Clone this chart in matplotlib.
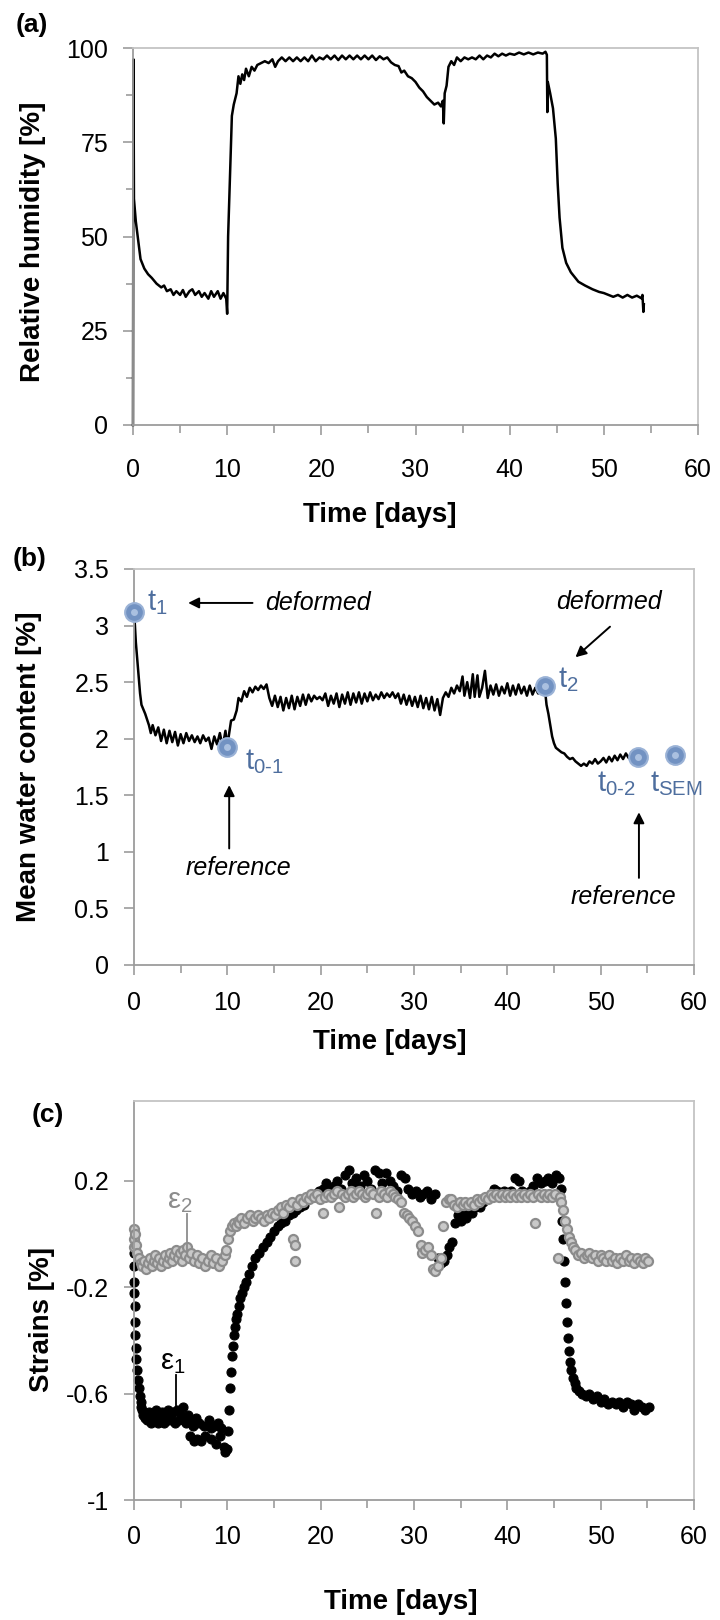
import matplotlib
matplotlib.use("Agg")
import matplotlib.pyplot as plt
from matplotlib.ticker import MultipleLocator, FormatStrFormatter

plt.rcParams['font.family'] = ['Liberation Sans', 'DejaVu Sans']
plt.rcParams['mathtext.fontset'] = 'custom'
plt.rcParams['mathtext.rm'] = 'Liberation Sans'
plt.rcParams['mathtext.it'] = 'Liberation Sans:italic'
plt.rcParams['mathtext.default'] = 'regular'
plt.rcParams['axes.unicode_minus'] = False

# (a) relative humidity
rh_t = [0.0, 0.05, 0.1, 0.2, 0.3, 0.5, 0.8, 1.2, 1.6, 2.0, 2.5, 3.0, 3.3, 3.6, 4.0, 4.3,
        4.6, 5.0, 5.3, 5.6, 6.0, 6.3, 6.6, 7.0, 7.3, 7.6, 8.0, 8.3, 8.6, 9.0, 9.3, 9.6,
        9.9, 10.0, 10.1, 10.25, 10.5, 10.7, 11.0, 11.2, 11.4, 11.6, 11.8, 12.0, 12.3,
        12.6, 12.9, 13.2, 13.6, 14.0, 14.4, 14.8, 15.1, 15.4, 15.8, 16.2, 16.6, 17.0,
        17.4, 17.8, 18.2, 18.6, 19.0, 19.4, 19.8, 20.2, 20.6, 21.0, 21.4, 21.8, 22.2,
        22.6, 23.0, 23.4, 23.8, 24.2, 24.6, 25.0, 25.4, 25.8, 26.2, 26.6, 27.0, 27.4,
        27.8, 28.2, 28.5, 28.8, 29.2, 29.6, 30.0, 30.4, 30.8, 31.2, 31.6, 32.0, 32.4,
        32.7, 32.9, 33.0, 33.1, 33.3, 33.5, 33.8, 34.1, 34.4, 34.8, 35.2, 35.6, 36.0,
        36.4, 36.8, 37.2, 37.6, 38.0, 38.4, 38.8, 39.2, 39.6, 40.0, 40.5, 41.0, 41.5,
        42.0, 42.5, 43.0, 43.5, 43.8, 43.95, 44.0, 44.05, 44.3, 44.6, 44.9, 45.1, 45.3,
        45.6, 46.0, 46.5, 47.3, 48.0, 48.8, 49.5, 50.0, 50.5, 51.0, 51.5, 52.0, 52.5,
        53.0, 53.5, 54.0, 54.1, 54.2, 54.25]
rh_v = [0, 97, 60, 57, 54, 50, 44, 41.5, 40, 39, 37.5, 36.5, 37, 35.5, 36, 34.5,
        35.5, 34.5, 35.8, 34, 35.5, 36, 34.5, 35.5, 34, 35, 33.5, 35.5, 34, 35.5, 33.5, 35,
        33.5, 29.5, 50, 62, 82, 85, 88, 92.5, 90.5, 93, 91.5, 94.5, 92.5,
        95, 94, 95.5, 96, 96.5, 96, 97, 95, 96.5, 97.5, 96.5, 97.5, 96.5,
        97.5, 96.5, 97.5, 96.5, 98, 96.5, 97.5, 97, 98, 97, 98, 96.8, 98,
        97, 98, 97, 98, 97, 98, 97, 98, 96.8, 97.8, 97, 97.5, 96.2,
        95.5, 95.2, 93.5, 94, 92.5, 92, 91, 89.5, 88.5, 87, 86, 85, 85.5,
        84.5, 86, 80, 88, 90, 95, 96.5, 95.5, 97.5, 96.5, 97.5, 97, 97.5,
        97, 98, 97, 98, 97.5, 98.5, 97.8, 98.5, 98, 98.5, 98.2, 98.8, 98.3,
        98.8, 98.3, 98.8, 98.5, 99, 98.2, 83, 91, 88, 84, 76, 64, 55,
        47, 43, 40.5, 38, 37, 36, 35.3, 35, 34.5, 34, 34.5, 33.8, 34.5,
        33.8, 34.3, 33.6, 34.5, 30, 32]

# (b) mean water content
wc_t = [0.0, 0.1, 0.2, 0.35, 0.5, 0.65, 0.8, 1.0, 1.2, 1.4, 1.6, 1.8, 2.0, 2.3, 2.6, 2.9,
        3.2, 3.5, 3.8, 4.1, 4.4, 4.7, 5.0, 5.3, 5.6, 5.9, 6.2, 6.5, 6.8, 7.1, 7.4, 7.7,
        8.0, 8.3, 8.6, 8.9, 9.2, 9.5, 9.8, 10.0, 10.2, 10.4, 10.7, 11.0, 11.2, 11.5,
        11.8, 12.1, 12.4, 12.7, 13.0, 13.3, 13.6, 13.9, 14.2, 14.5, 14.8, 15.1, 15.4,
        15.7, 16.0, 16.3, 16.6, 16.9, 17.2, 17.5, 17.8, 18.1, 18.4, 18.7, 19.0, 19.3,
        19.6, 19.9, 20.2, 20.5, 20.8, 21.1, 21.4, 21.7, 22.0, 22.3, 22.6, 22.9, 23.2,
        23.5, 23.8, 24.1, 24.4, 24.7, 25.0, 25.3, 25.6, 25.9, 26.2, 26.5, 26.8, 27.1,
        27.4, 27.7, 28.0, 28.3, 28.6, 28.9, 29.2, 29.5, 29.8, 30.1, 30.4, 30.7, 31.0,
        31.3, 31.6, 31.9, 32.2, 32.5, 32.8, 33.1, 33.4, 33.7, 34.0, 34.3, 34.6, 34.9,
        35.2, 35.4, 35.7, 36.0, 36.3, 36.5, 36.8, 37.0, 37.3, 37.6, 37.9, 38.2, 38.5,
        38.8, 39.1, 39.4, 39.7, 40.0, 40.3, 40.6, 40.9, 41.2, 41.5, 41.8, 42.1, 42.4,
        42.7, 43.0, 43.3, 43.6, 44.0, 44.2, 44.4, 44.6, 44.8, 45.0, 45.2, 45.5, 45.8,
        46.1, 46.4, 46.7, 47.0, 47.3, 47.6, 47.9, 48.2, 48.5, 48.8, 49.1, 49.4, 49.7,
        50.0, 50.3, 50.6, 50.9, 51.2, 51.5, 51.8, 52.1, 52.4, 52.7, 53.0, 53.3, 53.6,
        54.0]
wc_v = [3.12, 3.0, 2.85, 2.7, 2.55, 2.4, 2.3, 2.26, 2.22, 2.17, 2.12, 2.05, 2.12, 2.03, 2.1, 1.98,
        2.08, 1.96, 2.07, 1.97, 2.06, 1.94, 2.04, 1.96, 2.05, 1.98, 2.03, 1.97, 2.02, 1.96, 2.03, 1.98,
        2.01, 1.91, 2.02, 1.95, 2.05, 1.93, 2.07, 1.93, 2.05, 2.16, 2.17, 2.25, 2.36, 2.33,
        2.42, 2.37, 2.45, 2.41, 2.46, 2.43, 2.47, 2.44, 2.48, 2.36, 2.29, 2.38, 2.28,
        2.37, 2.25, 2.36, 2.27, 2.38, 2.26, 2.37, 2.29, 2.39, 2.3, 2.39, 2.33, 2.38,
        2.35, 2.37, 2.34, 2.4, 2.29, 2.38, 2.31, 2.4, 2.28, 2.39, 2.31, 2.41, 2.3,
        2.4, 2.32, 2.41, 2.31, 2.4, 2.33, 2.41, 2.34, 2.39, 2.35, 2.41, 2.36, 2.4,
        2.37, 2.41, 2.36, 2.4, 2.31, 2.39, 2.3, 2.38, 2.29, 2.37, 2.28, 2.38, 2.27,
        2.36, 2.26, 2.37, 2.25, 2.35, 2.21, 2.36, 2.41, 2.37, 2.45, 2.4, 2.47, 2.42,
        2.55, 2.38, 2.5, 2.36, 2.57, 2.37, 2.56, 2.37, 2.45, 2.6, 2.36, 2.47, 2.39,
        2.48, 2.38, 2.46, 2.4, 2.49, 2.38, 2.47, 2.39, 2.48, 2.4, 2.46, 2.38, 2.47,
        2.39, 2.45, 2.4, 2.44, 2.46, 2.3, 2.22, 2.12, 2.02, 1.96, 1.92, 1.9, 1.88,
        1.87, 1.84, 1.82, 1.83, 1.8, 1.78, 1.76, 1.78, 1.76, 1.8, 1.78, 1.82, 1.78,
        1.8, 1.83, 1.79, 1.84, 1.8, 1.85, 1.81, 1.86, 1.82, 1.87, 1.83, 1.88, 1.84,
        1.84]

# sampling times marked on (b)
mark_t = [0, 10, 44, 54, 58]
mark_w = [3.12, 1.93, 2.47, 1.84, 1.86]
mark_lbl = ['t$_1$', 't$_{0\u20101}$', 't$_2$', 't$_{0\u20102}$', 't$_{SEM}$']
mark_lbl_pos = [(1.4, 3.2), (11.9, 1.80), (45.4, 2.52), (49.6, 1.60), (55.3, 1.60)]

# (c) strains
e1_t = [0.0, 0.0, 0.05, 0.05, 0.1, 0.1, 0.15, 0.2, 0.25, 0.3, 0.4, 0.5, 0.6, 0.7, 0.8, 0.9,
        1.0, 1.2, 1.4, 1.6, 1.8, 2.0, 2.2, 2.4, 2.6, 2.8, 3.0, 3.2, 3.4, 3.6, 3.8, 4.0,
        4.2, 4.4, 4.6, 4.8, 5.0, 5.2, 5.4, 5.6, 5.8, 6.0, 6.3, 6.6, 6.0, 6.4, 6.8, 7.2,
        7.6, 7.0, 7.5, 8.0, 8.3, 8.6, 9.0, 9.3, 8.2, 8.8, 9.2, 9.6, 9.8, 10.0, 10.1,
        10.2, 10.3, 10.4, 10.5, 10.6, 10.7, 10.8, 10.9, 11.0, 11.2, 11.4, 11.6, 11.8,
        12.0, 12.3, 12.6, 13.0, 13.4, 13.8, 14.2, 14.6, 15.0, 15.4, 15.8, 16.2, 16.6,
        17.0, 17.4, 17.8, 18.2, 18.6, 19.0, 19.4, 19.8, 20.2, 20.6, 21.0, 21.4, 21.8,
        22.2, 22.6, 23.0, 23.4, 23.8, 24.2, 24.6, 25.0, 25.4, 25.8, 26.2, 26.6, 27.0,
        27.4, 27.8, 28.2, 28.6, 29.0, 29.4, 29.8, 30.2, 30.6, 31.0, 31.4, 31.8, 32.2,
        32.6, 32.9, 33.2, 33.5, 33.8, 34.1, 34.4, 34.7, 35.0, 35.3, 35.6, 35.9, 36.2,
        36.5, 36.8, 37.1, 37.4, 37.7, 38.0, 38.3, 38.6, 38.9, 39.2, 39.6, 40.0, 40.4,
        40.8, 41.2, 41.6, 42.0, 42.4, 42.8, 43.2, 43.6, 44.0, 44.4, 44.8, 45.2, 45.5,
        45.7, 45.8, 45.9, 46.0, 46.1, 46.2, 46.3, 46.4, 46.5, 46.6, 46.7, 46.8, 47.0,
        47.2, 47.4, 47.7, 48.0, 48.4, 48.8, 49.2, 49.6, 50.0, 50.4, 50.8, 51.2, 51.6,
        52.0, 52.4, 52.8, 53.2, 53.6, 54.0, 54.4, 54.8, 55.2]
e1_v = [-0.07, -0.12, -0.18, -0.22, -0.27, -0.33, -0.38, -0.43, -0.47, -0.51, -0.55, -0.58, -0.61, -0.63, -0.65, -0.66,
        -0.68, -0.69, -0.70, -0.67, -0.71, -0.68, -0.70, -0.66, -0.71, -0.69, -0.67, -0.71, -0.68, -0.66, -0.70, -0.69,
        -0.67, -0.71, -0.66, -0.70, -0.68, -0.65, -0.69, -0.71, -0.68, -0.70, -0.72, -0.69, -0.76, -0.78, -0.77, -0.78,
        -0.76, -0.71, -0.72, -0.70, -0.73, -0.72, -0.71, -0.73, -0.77, -0.79, -0.76, -0.80, -0.82, -0.81, -0.74,
        -0.66, -0.58, -0.52, -0.46, -0.42, -0.38, -0.35, -0.32, -0.30, -0.27, -0.24, -0.22, -0.20,
        -0.18, -0.15, -0.12, -0.09, -0.07, -0.05, -0.03, -0.01, 0.01, 0.03, 0.04, 0.05, 0.07,
        0.08, 0.09, 0.10, 0.11, 0.13, 0.14, 0.15, 0.16, 0.17, 0.19, 0.16, 0.18, 0.20,
        0.17, 0.22, 0.24, 0.19, 0.21, 0.18, 0.22, 0.20, 0.17, 0.24, 0.23, 0.19, 0.23,
        0.20, 0.18, 0.16, 0.22, 0.21, 0.17, 0.15, 0.16, 0.14, 0.15, 0.16, 0.13, 0.15,
        -0.09, -0.11, -0.10, -0.08, -0.05, -0.03, 0.04, 0.07, 0.05, 0.07, 0.06, 0.08, 0.08,
        0.10, 0.11, 0.10, 0.12, 0.13, 0.14, 0.15, 0.17, 0.16, 0.15, 0.16, 0.15, 0.16,
        0.21, 0.20, 0.16, 0.15, 0.16, 0.18, 0.21, 0.19, 0.20, 0.21, 0.19, 0.22, 0.21,
        0.17, 0.12, 0.05, -0.02, -0.10, -0.18, -0.26, -0.33, -0.39, -0.44, -0.48, -0.51, -0.54,
        -0.56, -0.58, -0.59, -0.60, -0.61, -0.60, -0.62, -0.61, -0.63, -0.62, -0.64, -0.63, -0.64,
        -0.63, -0.65, -0.63, -0.64, -0.66, -0.64, -0.65, -0.66, -0.65]

e2_t = [0.0, 0.0, 0.05, 0.1, 0.2, 0.3, 0.5, 0.7, 0.9, 1.1, 1.3, 1.5, 1.7, 1.9, 2.1, 2.3,
        2.5, 2.7, 2.9, 3.1, 3.3, 3.5, 3.7, 3.9, 4.1, 4.3, 4.5, 4.7, 4.9, 5.1, 5.3, 5.5,
        5.7, 5.9, 6.1, 6.4, 6.7, 7.0, 7.3, 7.6, 7.9, 8.2, 8.5, 8.8, 9.1, 9.4, 9.7, 9.9,
        10.1, 10.3, 10.5, 10.7, 10.9, 11.1, 11.3, 11.5, 11.8, 12.1, 12.4, 12.7, 13.0,
        13.3, 13.6, 13.9, 14.2, 14.5, 14.8, 15.1, 15.4, 15.7, 16.0, 16.3, 16.6, 16.9,
        17.0, 17.2, 17.3, 17.5, 17.8, 18.1, 18.4, 18.7, 19.0, 19.3, 19.6, 19.9, 20.2,
        20.5, 20.8, 21.1, 21.4, 21.7, 22.0, 22.3, 22.6, 22.9, 23.2, 23.5, 23.8, 24.1,
        24.4, 24.7, 25.0, 25.3, 25.6, 25.9, 26.2, 26.5, 26.8, 27.1, 27.4, 27.7, 28.0,
        28.3, 28.6, 28.9, 29.2, 29.5, 29.8, 30.1, 30.4, 30.7, 30.9, 31.2, 31.5, 31.8,
        32.0, 32.3, 32.6, 32.9, 33.1, 33.4, 33.7, 34.0, 34.3, 34.6, 34.9, 35.2, 35.5,
        35.8, 36.1, 36.4, 36.7, 37.0, 37.3, 37.6, 37.9, 38.2, 38.5, 38.8, 39.1, 39.4,
        39.7, 40.0, 40.3, 40.6, 40.9, 41.2, 41.5, 41.8, 42.1, 42.4, 42.7, 43.0, 43.3,
        43.6, 43.9, 44.2, 44.5, 44.8, 45.1, 45.4, 45.6, 45.8, 46.0, 46.2, 46.4, 46.6,
        46.8, 47.0, 47.3, 47.6, 47.9, 48.2, 48.5, 48.8, 49.1, 49.4, 49.7, 50.0, 50.3,
        50.6, 50.9, 51.2, 51.5, 51.8, 52.1, 52.4, 52.7, 53.0, 53.3, 53.6, 53.9, 54.2,
        54.5, 54.8, 55.1]
e2_v = [0.02, -0.02, -0.05, 0.0, -0.04, -0.07, -0.09, -0.11, -0.12, -0.10, -0.13, -0.11, -0.09, -0.12, -0.10, -0.08,
        -0.11, -0.09, -0.12, -0.10, -0.08, -0.11, -0.09, -0.07, -0.10, -0.08, -0.06, -0.09, -0.07, -0.10, -0.06, -0.08,
        -0.05, -0.09, -0.07, -0.10, -0.08, -0.11, -0.09, -0.12, -0.10, -0.08, -0.11, -0.09, -0.12, -0.10, -0.08, -0.06,
        -0.02, 0.01, 0.03, 0.04, 0.03, 0.05, 0.04, 0.06, 0.04, 0.06, 0.07, 0.05, 0.06,
        0.07, 0.06, 0.05, 0.07, 0.06, 0.08, 0.07, 0.09, 0.10, 0.08, 0.11, 0.10, 0.12,
        -0.02, -0.04, -0.10, 0.11, 0.13, 0.12, 0.14, 0.13, 0.15, 0.14, 0.15, 0.13, 0.08,
        0.14, 0.15, 0.14, 0.15, 0.16, 0.10, 0.15, 0.14, 0.15, 0.16, 0.14, 0.15, 0.16,
        0.15, 0.14, 0.15, 0.16, 0.15, 0.08, 0.14, 0.16, 0.15, 0.14, 0.16, 0.15, 0.14,
        0.13, 0.12, 0.08, 0.07, 0.06, 0.05, 0.03, 0.01, -0.04, -0.07, -0.06, -0.05, -0.08,
        -0.13, -0.14, -0.12, -0.09, 0.03, 0.12, 0.13, 0.13, 0.11, 0.10, 0.12, 0.11, 0.12,
        0.11, 0.12, 0.11, 0.13, 0.12, 0.13, 0.14, 0.13, 0.15, 0.14, 0.15, 0.14, 0.15,
        0.14, 0.15, 0.14, 0.15, 0.14, 0.15, 0.14, 0.15, 0.14, 0.15, 0.14, 0.04, 0.15,
        0.14, 0.15, 0.14, 0.15, 0.14, 0.15, -0.09, 0.14, 0.12, 0.09, 0.05, 0.02, -0.01,
        -0.03, -0.05, -0.06, -0.08, -0.07, -0.09, -0.08, -0.07, -0.09, -0.08, -0.10, -0.08, -0.09,
        -0.10, -0.08, -0.10, -0.09, -0.11, -0.09, -0.10, -0.08, -0.10, -0.09, -0.11, -0.09, -0.10,
        -0.11, -0.09, -0.10]

W, H = 720, 1620
fig = plt.figure(figsize=(W / 100, H / 100), dpi=100)


def box(x0, y0, x1, y1):
    # pixel box (left, top, right, bottom) -> figure fraction rect
    return [x0 / W, 1 - y1 / H, (x1 - x0) / W, (y1 - y0) / H]


def fpos(x, y):
    return x / W, 1 - y / H


def style(ax, xpad):
    for s in ['left', 'bottom']:
        ax.spines[s].set_color('#9c9c9c')
        ax.spines[s].set_linewidth(1.3)
    for s in ['top', 'right']:
        ax.spines[s].set_color('#c4c4c4')
        ax.spines[s].set_linewidth(1.3)
    ax.set_xlim(0, 60)
    ax.xaxis.set_major_locator(MultipleLocator(10))
    ax.xaxis.set_minor_locator(MultipleLocator(5))
    ax.tick_params(which='both', direction='out', color='#9c9c9c', width=1.2,
                   labelsize=18, top=False, right=False)
    ax.tick_params(which='major', length=7)
    ax.tick_params(which='minor', length=6)
    ax.tick_params(axis='x', pad=xpad)
    ax.tick_params(axis='y', pad=11)


lab = dict(fontsize=20, fontweight='bold', ha='center', va='center')

# ---- (a)
ax1 = fig.add_axes(box(133, 48, 698, 425))
ax1.plot(rh_t, rh_v, color='black', lw=1.8, clip_on=False)
ax1.set_ylim(0, 100)
ax1.yaxis.set_major_locator(MultipleLocator(25))
ax1.yaxis.set_minor_locator(MultipleLocator(12.5))
style(ax1, 17)
ax1.tick_params(axis='y', which='minor', length=5)
fig.text(*fpos(33, 242), 'Relative humidity [%]', rotation=90, **lab)
fig.text(*fpos(380, 515), 'Time [days]', **lab)
fig.text(*fpos(32, 25), '(a)', fontsize=19, fontweight='bold', ha='center', va='center')

# ---- (b)
ax2 = fig.add_axes(box(134, 569, 694, 965))
ax2.plot(wc_t, wc_v, color='black', lw=1.8)
ax2.plot(mark_t, mark_w, 'o', ms=13.5, mfc='#7292c2', mec='#9ab2d6', mew=1.5,
         clip_on=False, zorder=5)
ax2.plot(mark_t, mark_w, 'o', ms=5, mfc='#aac0e0', mec='none', clip_on=False, zorder=6)
for lbl, (lx, ly) in zip(mark_lbl, mark_lbl_pos):
    ax2.text(lx, ly, lbl, fontsize=21, color='#4e6e9e', ha='left', va='center', clip_on=False)
ax2.set_ylim(0, 3.5)
ax2.yaxis.set_major_locator(MultipleLocator(0.5))
ax2.yaxis.set_major_formatter(FormatStrFormatter('%g'))
style(ax2, 12)

arr = dict(arrowstyle='-|>', color='black', lw=1.4, mutation_scale=16, shrinkA=0, shrinkB=0)
ax2.annotate('', xy=(5.8, 3.2), xytext=(12.7, 3.2), arrowprops=arr)
ax2.text(14.1, 3.2, 'deformed', style='italic', fontsize=18, ha='left', va='center')
ax2.annotate('', xy=(47.3, 2.72), xytext=(51.0, 2.99), arrowprops=arr)
ax2.text(50.9, 3.21, 'deformed', style='italic', fontsize=18, ha='center', va='center')
ax2.annotate('', xy=(10.2, 1.59), xytext=(10.2, 1.03), arrowprops=arr)
ax2.text(11.2, 0.86, 'reference', style='italic', fontsize=18, ha='center', va='center')
ax2.annotate('', xy=(54.1, 1.35), xytext=(54.1, 0.77), arrowprops=arr)
ax2.text(52.4, 0.60, 'reference', style='italic', fontsize=18, ha='center', va='center')

fig.text(*fpos(29, 767), 'Mean water content [%]', rotation=90, **lab)
fig.text(*fpos(390, 1042), 'Time [days]', **lab)
fig.text(*fpos(30, 559), '(b)', fontsize=19, fontweight='bold', ha='center', va='center')

# ---- (c)
ax3 = fig.add_axes(box(134, 1101, 694, 1500))
ax3.plot(e1_t, e1_v, 'o', ms=6.5, mfc='black', mec='black', mew=0.8, clip_on=False)
ax3.plot(e2_t, e2_v, 'o', ms=6.5, mfc='#c9c9c9', mec='#8c8c8c', mew=1.6, clip_on=False)
ax3.set_ylim(-1, 0.5)
ax3.set_yticks([-1, -0.6, -0.2, 0.2])
ax3.set_yticklabels(['-1', '-0.6', '-0.2', '0.2'])
style(ax3, 11)
ax3.text(4.9, 0.125, '\u03b5$_2$', fontsize=21, color='#8c8c8c', ha='center', va='center')
ax3.plot([5.7, 5.7], [0.075, -0.06], color='#8c8c8c', lw=1.3)
ax3.text(4.1, -0.48, '\u03b5$_1$', fontsize=21, color='black', ha='center', va='center')
ax3.plot([4.5, 4.5], [-0.53, -0.65], color='black', lw=1.3)

fig.text(*fpos(42, 1320), 'Strains [%]', rotation=90, **lab)
fig.text(*fpos(401, 1602), 'Time [days]', **lab)
fig.text(*fpos(48, 1115), '(c)', fontsize=19, fontweight='bold', ha='center', va='center')

fig.savefig('out.png', dpi=100)
